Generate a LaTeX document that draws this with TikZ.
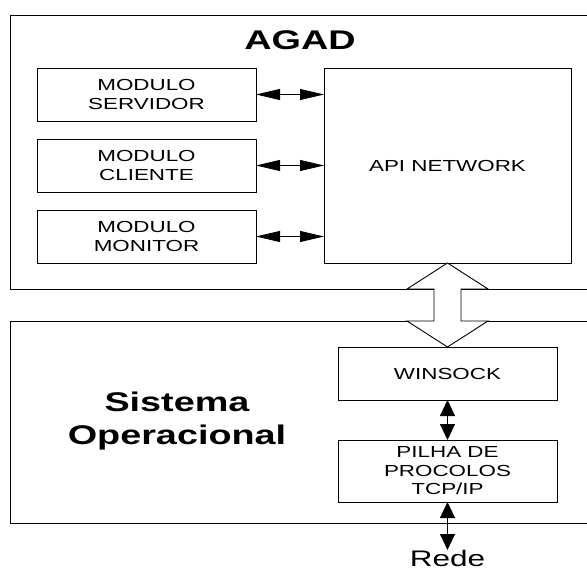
\documentclass[tikz,border=0pt]{standalone}
\usepackage{fontspec}
\setmainfont{Liberation Sans}
\newfontfamily\widefont[FakeStretch=1.4]{Liberation Sans}
\usetikzlibrary{arrows.meta}

\tikzset{
  box/.style={draw=black, line width=0.9pt, fill=white, inner sep=0pt, outer sep=0pt,
              align=center, font=\widefont\fontsize{16}{18.5}\selectfont},
  modbox/.style={box, minimum width=219pt, minimum height=53pt},
  osbox/.style={box, minimum width=219pt},
  region/.style={draw=black, line width=0.9pt, inner sep=0pt, outer sep=0pt, anchor=north west},
  title/.style={font=\widefont\bfseries\fontsize{27}{33}\selectfont, align=center, inner sep=0pt},
  hlink/.style={line width=0.9pt, {Triangle[length=24pt,width=11pt]}-{Triangle[length=24pt,width=11pt]}},
  vlink/.style={line width=0.9pt, {Triangle[length=16pt,width=15pt]}-{Triangle[length=16pt,width=15pt]}},
  hollow/.style={draw=black, line width=0.9pt, fill=white, line join=miter}
}

\begin{document}
\begin{tikzpicture}[x=1pt, y=-1pt]
  \useasboundingbox (0,0) rectangle (587,572);
  \clip (0,0) rectangle (587,572);

  % the two layers, both running off the right side
  \node[region, minimum width=600pt, minimum height=274pt] (agad) at (10,15) {};
  \node[region, minimum width=600pt, minimum height=202pt] (sos) at (10,321) {};

  \node[title] (agadtitle) at (300,40) {AGAD};
  \node[title] (sostitle) at (177,421) {Sistema\\Operacional};

  % application modules
  \node[modbox] (serv) at (146.5,94.5) {MODULO\\SERVIDOR};
  \node[modbox] (cli)  at (146.5,165.5) {MODULO\\CLIENTE};
  \node[modbox] (mon)  at (146.5,236.5) {MODULO\\MONITOR};

  \node[box, minimum width=247pt, minimum height=195pt] (api) at (447.5,165.5) {API NETWORK};

  % operating system side
  \node[osbox, minimum height=53pt] (wins) at (447.5,373.5) {WINSOCK};
  \node[osbox, minimum height=62pt] (pilha) at (447.5,471) {PILHA DE\\PROCOLOS\\TCP/IP};

  \node[font=\widefont\fontsize{22.5}{25}\selectfont, inner sep=0pt, anchor=north] (rede) at (447.5,550) {Rede};

  % module <-> API links
  \draw[hlink] (serv.east) -- (api.west |- serv.east);
  \draw[hlink] (cli.east)  -- (api.west |- cli.east);
  \draw[hlink] (mon.east)  -- (api.west |- mon.east);

  % hollow double arrow between the layers
  \draw[hollow] (api.south) -- ++(40.5,26) -- ++(-27,0) -- ++(0,32) -- ++(27,0)
    -- (wins.north) -- ++(-40.5,-26) -- ++(27,0) -- ++(0,-32) -- ++(-27,0) -- cycle;

  % stack links
  \draw[vlink] (wins.south) -- (pilha.north);
  \draw[vlink] (pilha.south) -- (rede.north);
\end{tikzpicture}
\end{document}
